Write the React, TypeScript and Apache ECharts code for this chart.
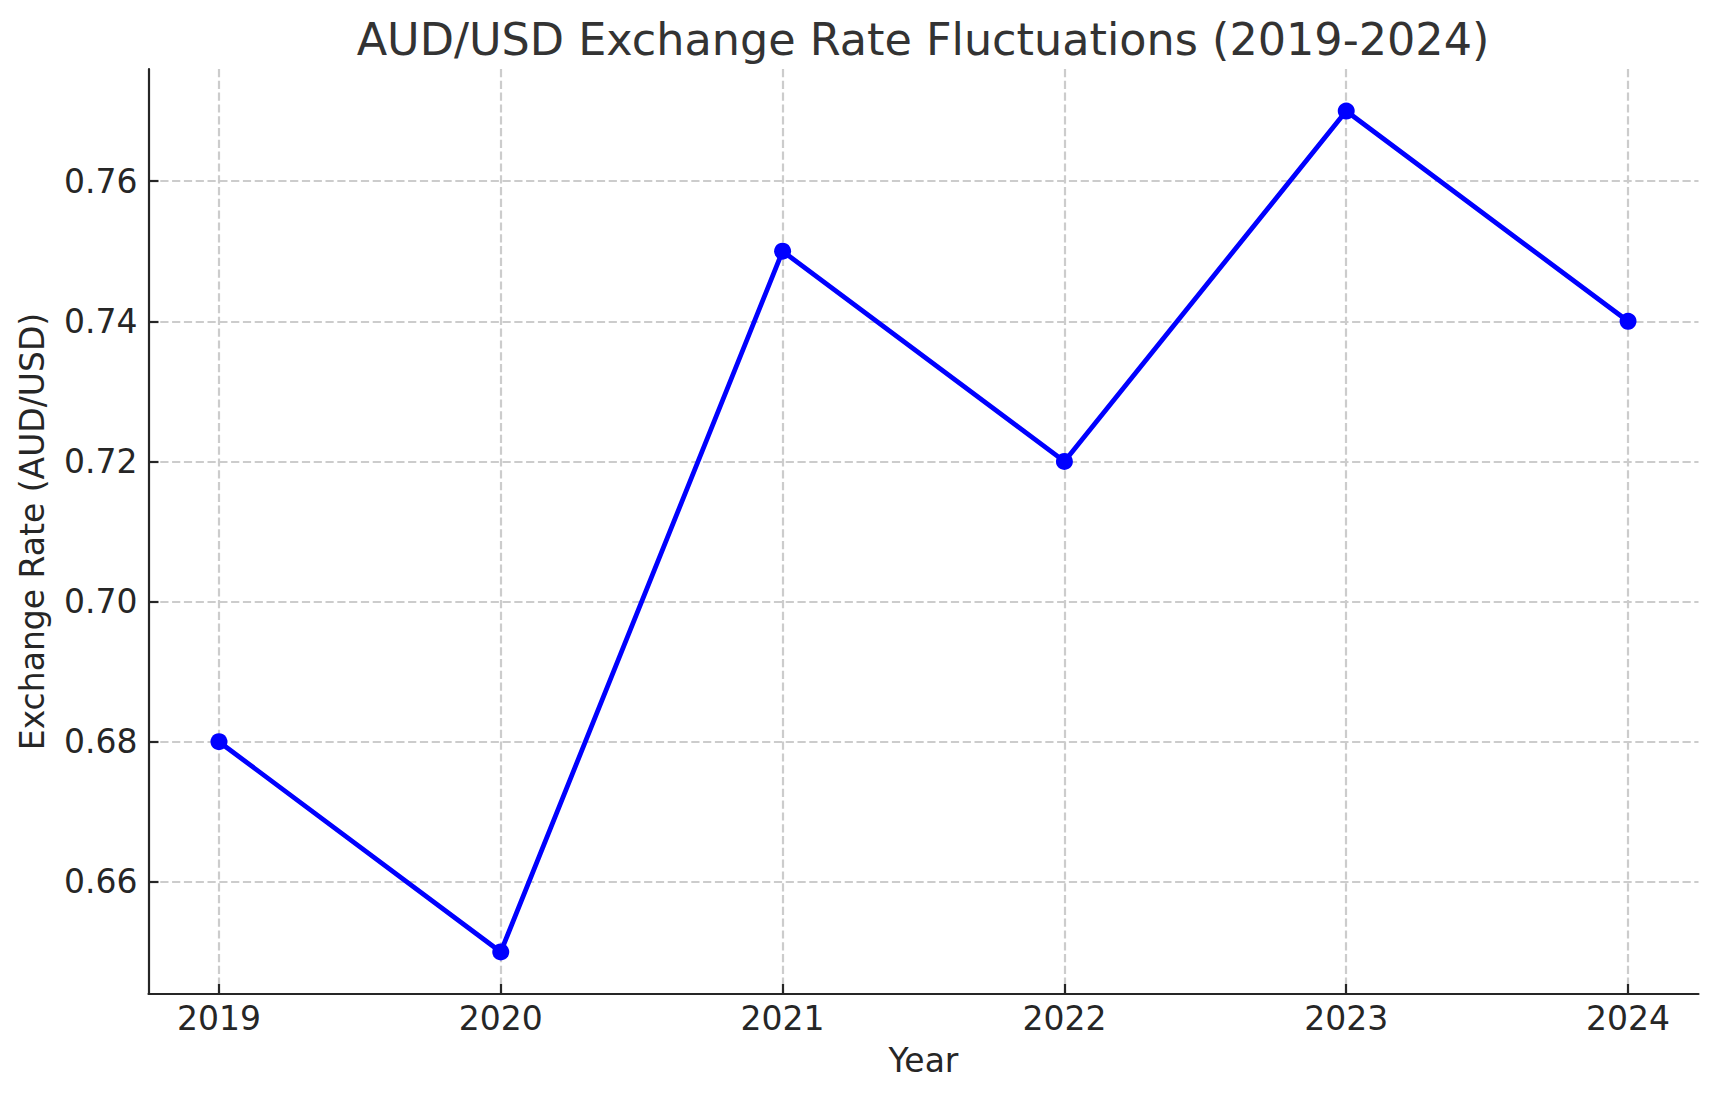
import React, { useEffect, useRef } from "react";
import * as echarts from "echarts";

const years = [2019, 2020, 2021, 2022, 2023, 2024];
const rates = [0.68, 0.65, 0.75, 0.72, 0.77, 0.74];
const titleText = "AUD/USD Exchange Rate Fluctuations (2019-2024)";
const xLabel = "Year";
const yLabel = "Exchange Rate (AUD/USD)";

const W = 1718;
const H = 1101;
const FONT = "DejaVu Sans";
const AX = "#262626";
const GRIDC = "#cccccc";

export default function App() {
  const ref = useRef<HTMLDivElement>(null);
  useEffect(() => {
    document.body.style.margin = "0";
    const chart = echarts.init(ref.current!, null, { renderer: "svg" });
    const xMin = years[0] - 0.25;
    const xMax = years[years.length - 1] + 0.25;
    const yMinData = Math.min(...rates);
    const yMaxData = Math.max(...rates);
    const pad = (yMaxData - yMinData) * 0.05;
    const yMin = yMinData - pad;
    const yMax = yMaxData + pad;
    const left = 148.5, right = 19.5, top = 69, bottom = 107;
    const plotW = W - left - right;
    const plotH = H - top - bottom;
    const xPix = (v: number) => left + ((v - xMin) / (xMax - xMin)) * plotW;
    const yPix = (v: number) => top + ((yMax - v) / (yMax - yMin)) * plotH;
    const yt0 = 0.66, yt1 = 0.76;
    const dash = { color: GRIDC, width: 2.2, type: [8.2, 3.6] as any };

    chart.setOption({
      animation: false,
      textStyle: { fontFamily: FONT },
      title: {
        text: titleText,
        left: 918,
        textAlign: "center",
        top: 12,
        textStyle: { fontSize: 44.5, fontWeight: "normal", color: "#333333", fontFamily: FONT },
      },
      grid: [
        { left, right, top, bottom },
        { left: xPix(years[0]), right: W - xPix(years[years.length - 1]), top, bottom },
        { left, right, top: yPix(yt1), bottom: H - yPix(yt0) },
      ],
      xAxis: [
        {
          gridIndex: 0, type: "value", min: xMin, max: xMax,
          axisLine: { show: true, onZero: false, lineStyle: { color: AX, width: 2.2 } },
          axisTick: { show: false }, axisLabel: { show: false }, splitLine: { show: false },
          name: xLabel, nameLocation: "middle", nameGap: 50,
          nameTextStyle: { fontSize: 33, color: AX, fontFamily: FONT },
        },
        {
          gridIndex: 1, type: "value", min: years[0], max: years[years.length - 1], interval: 1,
          axisLine: { show: false },
          axisTick: { show: true, inside: true, length: 10, lineStyle: { color: AX, width: 2.2 } },
          axisLabel: { show: true, fontSize: 33, color: AX, margin: 8, formatter: (v: number) => String(v) },
          splitLine: { show: true, lineStyle: dash },
        },
        { gridIndex: 2, type: "value", min: 0, max: 1, show: false },
      ],
      yAxis: [
        {
          gridIndex: 0, type: "value", min: yMin, max: yMax,
          axisLine: { show: true, onZero: false, lineStyle: { color: AX, width: 2.2 } },
          axisTick: { show: false }, axisLabel: { show: false }, splitLine: { show: false },
          name: yLabel, nameLocation: "middle", nameGap: 100, nameRotate: 90,
          nameTextStyle: { fontSize: 33, color: AX, fontFamily: FONT },
        },
        { gridIndex: 1, type: "value", min: yMin, max: yMax, show: false },
        {
          gridIndex: 2, type: "value", min: yt0, max: yt1, interval: 0.02,
          axisLine: { show: false },
          axisTick: { show: true, inside: true, length: 10, lineStyle: { color: AX, width: 2.2 } },
          axisLabel: { show: true, fontSize: 33, color: AX, margin: 11, formatter: (v: number) => v.toFixed(2) },
          splitLine: { show: true, lineStyle: dash },
        },
      ],
      series: [
        {
          type: "line",
          xAxisIndex: 0, yAxisIndex: 0,
          data: years.map((y, i) => [y, rates[i]]),
          lineStyle: { color: "#0000ff", width: 4.8 },
          itemStyle: { color: "#0000ff" },
          symbol: "circle", symbolSize: 17, showSymbol: true,
          z: 5,
        },
      ],
    });
    return () => chart.dispose();
  }, []);
  return <div ref={ref} style={{ width: W, height: H }} />;
}
